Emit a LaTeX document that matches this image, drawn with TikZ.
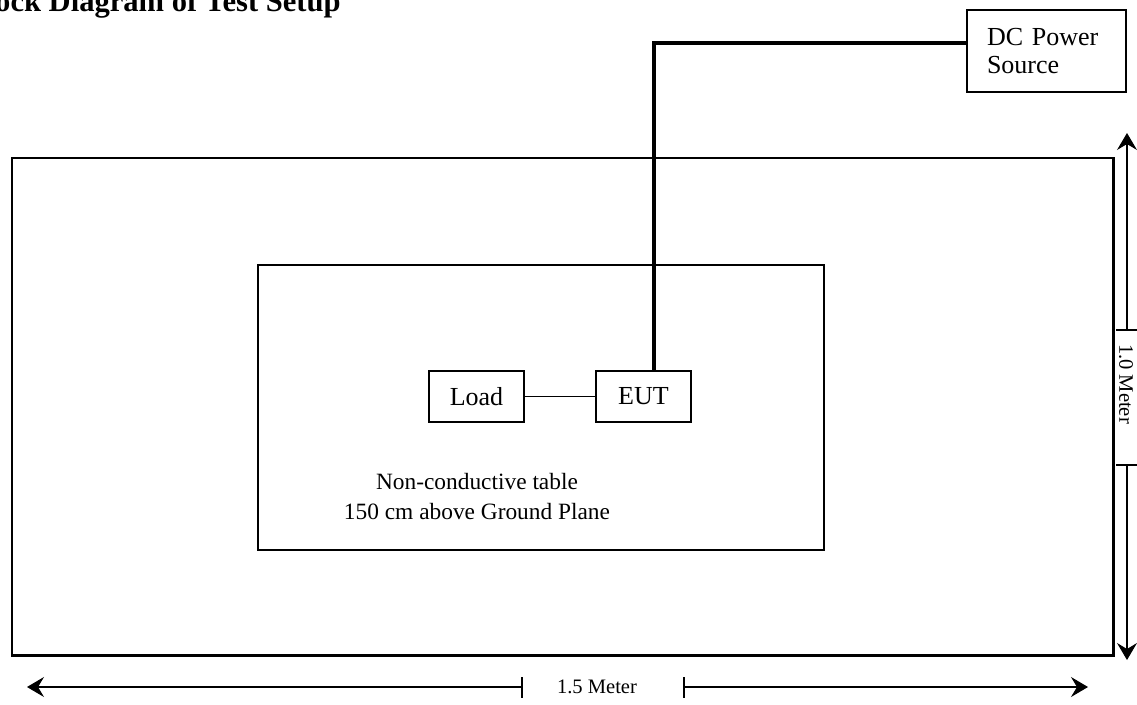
\documentclass[tikz,border=0pt]{standalone}
\usepackage{fontspec}
\setmainfont{Liberation Serif}
\usetikzlibrary{arrows.meta,positioning}

\begin{document}
\begin{tikzpicture}[x=0.02cm,y=-0.02cm,
        box/.style={draw,line width=0.85pt,inner sep=0pt,
            font=\fontsize{14.8}{15.5}\selectfont},
        cable/.style={line width=1.9pt},
        dimline/.style={line width=0.6pt},
        dimtip/.style={-{Stealth[length=0.34cm,width=0.4cm,inset=0.12cm]}},
        dimlabel/.style={inner sep=0pt,font=\fontsize{11.7}{12}\selectfont}]
        \clip (0,0) rectangle (1137,704);
        \useasboundingbox (0,0) rectangle (1137,704);

        % title
        \node[anchor=base west,inner sep=0pt,font=\fontsize{17.4}{18}\selectfont\bfseries]
            (title) at (-34,11) {Block Diagram of Test Setup};

        % ground plane and table
        \draw[line width=1.7pt] (12,158) rectangle (1113,655);
        \draw[line width=0.85pt] (258,265) rectangle (824,550);

        \node[anchor=base,align=center,inner sep=0pt,font=\fontsize{13.3}{17}\selectfont]
            (tablelabel) at (477,519) {Non-conductive table\\150 cm above Ground Plane};

        % units
        \node[box,minimum width=1.9cm,minimum height=1.02cm] (load) at (476.5,396.5) {Load};
        \node[box,minimum width=1.9cm,minimum height=1.02cm] (eut) at (643.5,396.5) {EUT};
        \node[box,minimum width=3.18cm,minimum height=1.64cm,text width=2.38cm,
            align=left,inner xsep=0.4cm] (dc) at (1046.5,51) {DC Power\\Source};

        % wiring
        \draw[line width=0.85pt] (load) -- (eut);
        \draw[cable] ([yshift=0.16cm]dc.west) -| ([xshift=0.21cm]eut.north);

        % 1.0 m dimension
        \coordinate (vtop) at (1127,133);
        \coordinate (vbot) at (1127,660);
        \node[dimlabel,rotate=-90] (vlabel) at (1126,384) {1.0 Meter};
        \draw[dimline,dimtip] (1127,330) -- (vtop);
        \draw[dimline,dimtip] (1127,465) -- (vbot);
        \foreach \y in {330,465}
            \draw[dimline] (1116,\y) -- (1137,\y);

        % 1.5 m dimension
        \coordinate (hleft) at (27,687);
        \coordinate (hright) at (1088,687);
        \node[dimlabel] (hlabel) at (597,687) {1.5 Meter};
        \draw[dimline,dimtip] (522,687) -- (hleft);
        \draw[dimline,dimtip] (684,687) -- (hright);
        \foreach \x in {522,684}
            \draw[dimline] (\x,677) -- (\x,698);
    \end{tikzpicture}
\end{document}
